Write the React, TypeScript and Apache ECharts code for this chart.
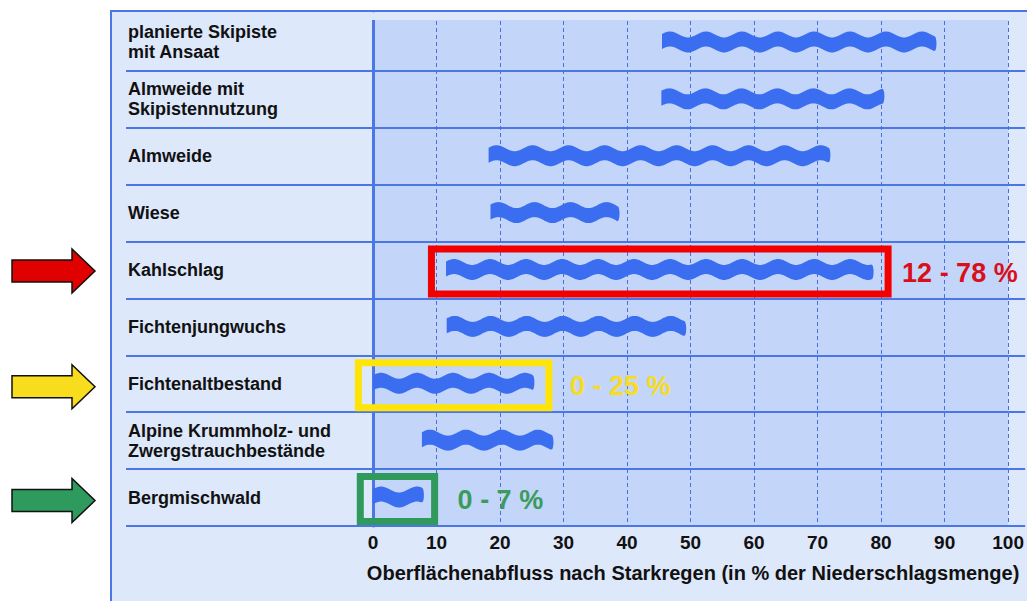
import React, { useEffect, useRef } from "react";
import * as echarts from "echarts";

const categories = [
  "planierte Skipiste\nmit Ansaat",
  "Almweide mit\nSkipistennutzung",
  "Almweide",
  "Wiese",
  "Kahlschlag",
  "Fichtenjungwuchs",
  "Fichtenaltbestand",
  "Alpine Krummholz- und\nZwergstrauchbestände",
  "Bergmischwald",
];
const rangeStart = [45.5, 45.4, 18.2, 18.5, 11.5, 11.6, 0, 7.7, 0];
const rangeEnd = [88.4, 80.2, 71.7, 38.5, 78.5, 49, 25.1, 28.1, 7.7];

const xTicks = [0, 10, 20, 30, 40, 50, 60, 70, 80, 90, 100];
const axisTitle = "Oberflächenabfluss nach Starkregen (in % der Niederschlagsmenge)";

const highlightCategory = [4, 6, 8];
const highlightText = ["12 - 78 %", "0 - 25 %", "0 - 7 %"];
const highlightStart = [9.2, -2.3, -2.0];
const highlightEnd = [81.1, 27.7, 9.7];

const highlightBoxColor = ["#f20000", "#ffe40a", "#2f9a5c"];
const highlightTextColor = ["#d8101c", "#f6dc22", "#3a9b5c"];
const highlightTextGap = [14, 21, 23];
const arrowColor = ["#e00000", "#f8dc1e", "#2f9a5e"];

const FONT = '"Liberation Sans", Arial, Helvetica, sans-serif';
const LINE = "#4a76e6";
const PANEL = "#dee8fb";
const PLOT = "#c3d5f9";
const WAVE = "#3a6df0";

export default function App() {
  const ref = useRef<HTMLDivElement>(null);
  useEffect(() => {
    if (!ref.current) return;
    const chart = echarts.init(ref.current, null, { renderer: "svg" });

    const waveData = categories.map((_, i) => [rangeStart[i], rangeEnd[i], i]);
    const boxData = highlightCategory.map((c, i) => [highlightStart[i], highlightEnd[i], c, i]);

    const option: any = {
      animation: false,
      backgroundColor: "transparent",
      textStyle: { fontFamily: FONT },
      grid: {
        left: 373,
        right: 17,
        top: 14,
        bottom: 75,
        show: true,
        backgroundColor: PLOT,
        borderWidth: 0,
      },
      xAxis: {
        type: "value",
        min: 0,
        max: 100,
        interval: 10,
        axisLine: { show: true, onZero: false, lineStyle: { color: LINE, width: 2 } },
        axisTick: { show: false },
        splitLine: { show: true, lineStyle: { color: "#4a6fdc", width: 1, type: [4, 3] } },
        axisLabel: {
          margin: 7,
          color: "#111",
          fontSize: 19,
          fontWeight: "bold",
          fontFamily: FONT,
          formatter: (v: number) => (xTicks.includes(v) ? String(v) : ""),
        },
        name: axisTitle,
        nameLocation: "middle",
        nameGap: 37,
        nameTextStyle: { color: "#111", fontSize: 20, fontWeight: "bold", fontFamily: FONT, padding: [0, 0, 0, 5] },
      },
      yAxis: [
        {
          type: "category",
          data: categories,
          inverse: true,
          axisLine: { show: true, lineStyle: { color: LINE, width: 3 } },
          axisTick: { show: true, length: 247, interval: 0, lineStyle: { color: LINE, width: 2 } },
          splitLine: { show: true, interval: 0, lineStyle: { color: LINE, width: 2 } },
          axisLabel: {
            interval: 0,
            align: "left",
            margin: 245,
            color: "#111",
            fontSize: 18,
            lineHeight: 20,
            fontWeight: "bold",
            fontFamily: FONT,
          },
        },
        {
          type: "category",
          data: categories,
          inverse: true,
          position: "right",
          axisLine: { show: false },
          axisTick: { show: true, length: 17, interval: 0, lineStyle: { color: LINE, width: 2 } },
          axisLabel: { show: false },
          splitLine: { show: false },
        },
      ],
      series: [
        {
          type: "custom",
          name: "Abfluss",
          xAxisIndex: 0,
          yAxisIndex: 0,
          clip: false,
          encode: { x: [0, 1], y: 2 },
          data: waveData,
          renderItem: (params: any, api: any) => {
            const s = api.value(0);
            const e = api.value(1);
            const c = api.value(2);
            const p0 = api.coord([s, c]);
            const p1 = api.coord([e, c]);
            const cy = p0[1] - 0.5;
            const T = 15;
            const A = 3;
            const P = 36;
            const ph = 8;
            const wave = (x: number) => -A * Math.cos((2 * Math.PI * (x - p0[0] - ph)) / P);
            const top: number[][] = [];
            const bot: number[][] = [];
            for (let x = p0[0]; x <= p1[0] + 0.001; x += 1) {
              const w = wave(x);
              top.push([x, cy - T / 2 + w]);
              bot.push([x, cy + T / 2 + w]);
            }
            const last = p1[0];
            const wl = wave(last);
            const cap: number[][] = [];
            for (let k = 1; k < 8; k++) {
              const ang = -Math.PI / 2 + (Math.PI * k) / 8;
              cap.push([last + 2 * Math.cos(ang), cy + wl + (T / 2) * Math.sin(ang)]);
            }
            return {
              type: "polygon",
              shape: { points: top.concat(cap, bot.reverse()) },
              style: { fill: WAVE },
            };
          },
          z: 5,
        },
        {
          type: "custom",
          name: "Markierung",
          xAxisIndex: 0,
          yAxisIndex: 0,
          clip: false,
          encode: { x: [0, 1], y: 2 },
          data: boxData,
          renderItem: (params: any, api: any) => {
            const s = api.value(0);
            const e = api.value(1);
            const c = api.value(2);
            const i = api.value(3);
            const p0 = api.coord([s, c]);
            const p1 = api.coord([e, c]);
            const cy = p0[1] + 1.5;
            return {
              type: "group",
              children: [
                {
                  type: "rect",
                  shape: { x: p0[0], y: cy - 22.5, width: p1[0] - p0[0], height: 45 },
                  style: { fill: "none", stroke: highlightBoxColor[i], lineWidth: 7 },
                },
                {
                  type: "text",
                  style: {
                    text: highlightText[i],
                    x: p1[0] + highlightTextGap[i],
                    y: cy + 1,
                    fill: highlightTextColor[i],
                    fontSize: 27,
                    fontWeight: "bold",
                    fontFamily: FONT,
                    verticalAlign: "middle",
                    align: "left",
                  },
                },
              ],
            };
          },
          z: 6,
        },
      ],
    };
    chart.setOption(option);

    const arrows = highlightCategory.map((c, i) => {
      const cy = chart.convertToPixel({ yAxisIndex: 0 }, c as any) as unknown as number;
      const y = (typeof cy === "number" ? cy : 0) + (i === 0 ? 1 : 3);
      return {
        type: "polygon",
        z: 50,
        shape: {
          points: [
            [12, y - 11],
            [72, y - 11],
            [72, y - 22],
            [95, y],
            [72, y + 22],
            [72, y + 11],
            [12, y + 11],
          ],
        },
        style: { fill: arrowColor[i], stroke: "#111", lineWidth: 1.5 },
      };
    });
    chart.setOption({
      graphic: [
        {
          type: "rect",
          z: 40,
          shape: { x: 113, y: 13, width: 920, height: 7 },
          style: { fill: PANEL },
        },
        ...arrows,
      ],
    });

    return () => chart.dispose();
  }, []);

  return (
    <div style={{ position: "absolute", left: 0, top: 0, width: 1027, height: 601, background: "#fff", overflow: "hidden" }}>
      <div
        style={{
          position: "absolute",
          left: 110,
          top: 10,
          width: 1000,
          height: 620,
          background: PANEL,
          borderLeft: `2px solid ${LINE}`,
          borderTop: `2px solid ${LINE}`,
        }}
      />
      <div ref={ref} style={{ position: "absolute", left: 0, top: 0, width: 1027, height: 601 }} />
    </div>
  );
}
